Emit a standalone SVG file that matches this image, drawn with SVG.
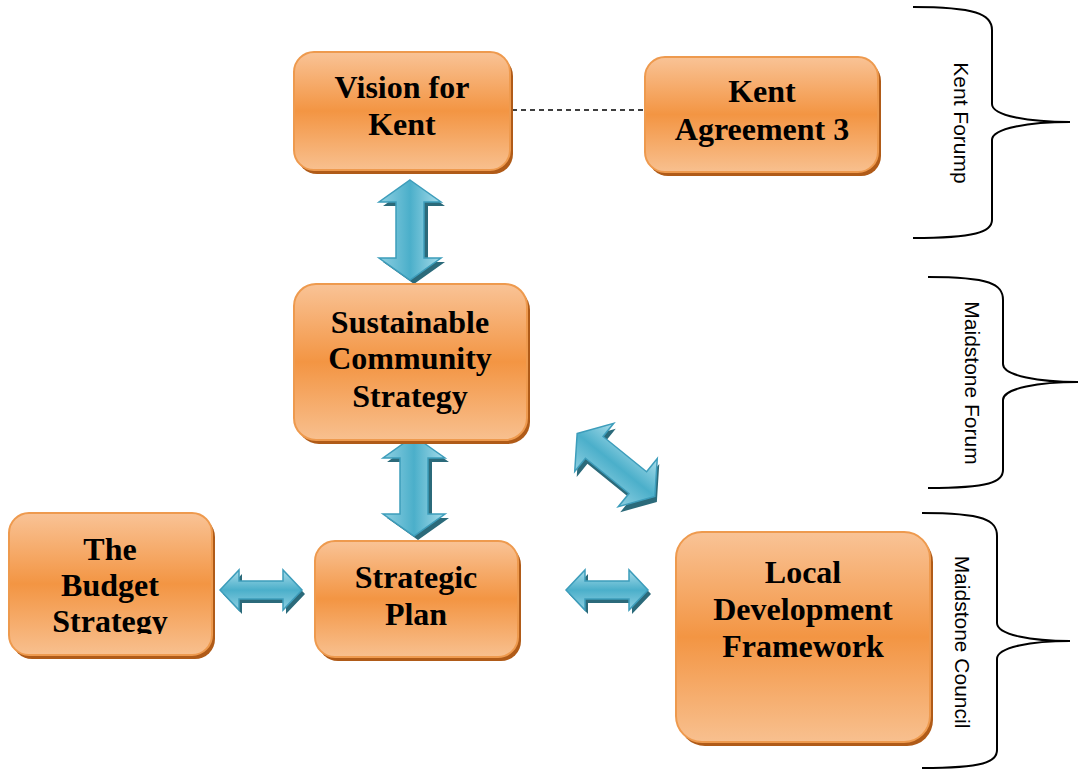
<svg xmlns="http://www.w3.org/2000/svg" width="1080" height="776" viewBox="0 0 1080 776">
<defs>
<linearGradient id="og" x1="0" y1="0" x2="0" y2="1">
<stop offset="0" stop-color="#f9c396"/>
<stop offset="0.5" stop-color="#f39543"/>
<stop offset="1" stop-color="#f8c08f"/>
</linearGradient>
<linearGradient id="bg" x1="0" y1="0" x2="0" y2="1">
<stop offset="0" stop-color="#a8dcea"/>
<stop offset="0.5" stop-color="#4bafca"/>
<stop offset="1" stop-color="#8fd0e2"/>
</linearGradient>
<path id="arrL" d="M-50,0 L-28,-31 L-28,-14 L28,-14 L28,-31 L50,0 L28,31 L28,14 L-28,14 L-28,31 Z"/>
<path id="arrS" d="M-41,0 L-22,-20 L-22,-9 L22,-9 L22,-20 L41,0 L22,20 L22,9 L-22,9 L-22,20 Z"/>
<clipPath id="clipBudget"><rect x="0" y="500" width="240" height="134"/></clipPath>
</defs>
<style>
.sh{fill:#b05b18}
.bx{fill:url(#og);stroke:#ee9a4e;stroke-width:2}
.lb{font-family:"Liberation Serif","Times New Roman",serif;font-weight:bold;font-size:32px;fill:#000;text-anchor:middle}
.ash{fill:#2b6a7a}
.ar{fill:url(#bg);stroke:#3d9dbb;stroke-width:1.5}
.br{fill:none;stroke:#000;stroke-width:2}
.bt{font-family:"Liberation Sans",Arial,sans-serif;font-size:21px;fill:#000;text-anchor:middle;dominant-baseline:central}
</style>
<rect width="1080" height="776" fill="#fff"/>

<g id="connectors">
<line x1="512" y1="110" x2="645" y2="110" stroke="#000" stroke-width="1.3" stroke-dasharray="5,4"/>
<g transform="translate(410,230) rotate(90)"><use href="#arrL" class="ash" transform="translate(4,-4)"/><use href="#arrL" class="ar"/></g>
<g transform="translate(414,486) rotate(90)"><use href="#arrL" class="ash" transform="translate(4,-4)"/><use href="#arrL" class="ar"/></g>
<g transform="translate(616,465) rotate(39)"><use href="#arrL" class="ash" transform="translate(5,3)"/><use href="#arrL" class="ar"/></g>
<g transform="translate(261,590)"><use href="#arrS" class="ash" transform="translate(3,4)"/><use href="#arrS" class="ar"/></g>
<g transform="translate(607,590)"><use href="#arrS" class="ash" transform="translate(3,4)"/><use href="#arrS" class="ar"/></g>
</g>

<g id="vision">
<rect class="sh" x="297" y="56" width="216" height="118" rx="20"/>
<rect class="bx" x="294" y="52" width="216" height="118" rx="20"/>
<text class="lb" x="402" y="98">Vision for</text>
<text class="lb" x="402" y="135">Kent</text>
</g>

<g id="kent-agreement">
<rect class="sh" x="648" y="61" width="233" height="115" rx="20"/>
<rect class="bx" x="645" y="57" width="233" height="115" rx="20"/>
<text class="lb" x="762" y="102">Kent</text>
<text class="lb" x="762" y="140">Agreement 3</text>
</g>

<g id="scs">
<rect class="sh" x="297" y="288" width="233" height="156" rx="22"/>
<rect class="bx" x="294" y="284" width="233" height="156" rx="22"/>
<text class="lb" x="410" y="333">Sustainable</text>
<text class="lb" x="410" y="369">Community</text>
<text class="lb" x="410" y="407">Strategy</text>
</g>

<g id="budget">
<rect class="sh" x="12" y="517" width="203" height="142" rx="20"/>
<rect class="bx" x="9" y="513" width="203" height="142" rx="20"/>
<g clip-path="url(#clipBudget)">
<text class="lb" x="110" y="560">The</text>
<text class="lb" x="110" y="596">Budget</text>
<text class="lb" x="110" y="632">Strategy</text>
</g>
</g>

<g id="strategic-plan">
<rect class="sh" x="318" y="545" width="203" height="116" rx="20"/>
<rect class="bx" x="315" y="541" width="203" height="116" rx="20"/>
<text class="lb" x="416" y="588">Strategic</text>
<text class="lb" x="416" y="625">Plan</text>
</g>

<g id="ldf">
<rect class="sh" x="679" y="536" width="254" height="210" rx="26"/>
<rect class="bx" x="676" y="532" width="254" height="210" rx="26"/>
<text class="lb" x="803" y="583">Local</text>
<text class="lb" x="803" y="620">Development</text>
<text class="lb" x="803" y="657">Framework</text>
</g>

<g id="kent-forum">
<path class="br" d="M913,7 C975,7 992,14 992,30 L992,104 C992,116 1030,122 1070,122 C1030,122 992,128 992,140 L992,220 C992,232 975,238 913,238"/>
<text class="bt" transform="translate(961,123) rotate(90)">Kent Forump</text>
</g>

<g id="maidstone-forum">
<path class="br" d="M928,277 C990,277 1003,284 1003,300 L1003,364 C1003,376 1040,382 1078,382 C1040,382 1003,388 1003,400 L1003,470 C1003,482 990,488 928,488"/>
<text class="bt" transform="translate(972,383) rotate(90)">Maidstone Forum</text>
</g>

<g id="maidstone-council">
<path class="br" d="M922,513 C984,513 997,520 997,536 L997,623 C997,635 1032,641 1070,641 C1032,641 997,647 997,659 L997,750 C997,762 984,768 922,768"/>
<text class="bt" transform="translate(962,642) rotate(90)">Maidstone Council</text>
</g>
</svg>
